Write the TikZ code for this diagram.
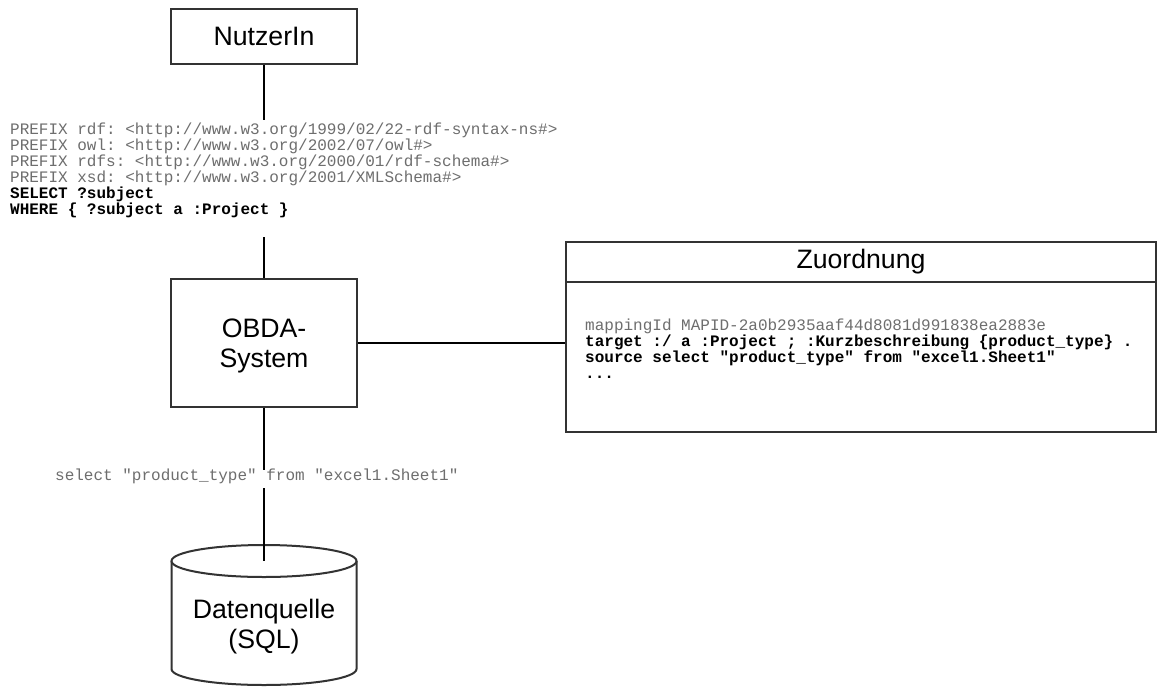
\documentclass[tikz,border=0pt]{standalone}
\usepackage{fontspec}
\setmainfont{Liberation Sans}
\newfontfamily\codefont[Ligatures=TeXOff]{Liberation Mono}
\usetikzlibrary{shapes.geometric}
\definecolor{bordergray}{HTML}{333333}
\definecolor{codegray}{HTML}{6E6E6E}
\tikzset{
  box/.style={draw=bordergray, line width=2pt, fill=white, inner sep=0pt,
    font=\fontsize{26.67}{29.5}\selectfont, align=center},
  label/.style={inner sep=0pt, font=\fontsize{26.67}{30}\selectfont, align=center},
  conn/.style={draw=black, line width=2pt},
  codeblock/.style={font=\codefont\fontsize{16}{16}\selectfont\frenchspacing,
    align=left, inner sep=0pt, text=codegray},
}
\begin{document}
\begin{tikzpicture}[x=1pt,y=-1pt]
\useasboundingbox[fill=white] (0,0) rectangle (1157,686);

% nodes
\node[box, minimum width=186pt, minimum height=55pt] (nutzer) at (264,36.5) {NutzerIn};
\node[box, minimum width=186pt, minimum height=128pt] (obda) at (264,343) {};
\node[label] (obdatext) at (264,345.5) {OBDA-\\System};
\node[draw=bordergray, line width=2pt, fill=white, minimum width=590pt, minimum height=190pt, inner sep=0pt] (zbox) at (861,337) {};
\node[label] (zhead) at (861,262) {Zuordnung};

% cylinder
\coordinate (dbtop) at (264,561);
\draw[draw=bordergray, line width=2pt, fill=white]
  (171.5,561) -- (171.5,669)
  .. controls (171.5,677.8) and (212.9,685) .. (264,685)
  .. controls (315.1,685) and (356.5,677.8) .. (356.5,669)
  -- (356.5,561);
\draw[draw=bordergray, line width=2pt, fill=white] (dbtop) ellipse [x radius=92.5pt, y radius=16pt];
\node[label] (db) at (264,627) {Datenquelle\\(SQL)};

% header separator
\draw[draw=bordergray, line width=2pt] (zbox.west |- 0,282) -- (zbox.east |- 0,282);

% connectors
\coordinate (qtop) at (264,120);
\coordinate (qbot) at (264,237);
\draw[conn] (nutzer.south) -- (qtop);
\draw[conn] (qbot) -- (obda.north);
\draw[conn] (obda.east) -- (obda.east -| zbox.west);
\draw[conn] (obda.south) -- (dbtop);

% code texts
\node[codeblock, anchor=north west] (query) at (10,123) {%
PREFIX rdf: <http://www.w3.org/1999/02/22-rdf-syntax-ns\#>\\
PREFIX owl: <http://www.w3.org/2002/07/owl\#>\\
PREFIX rdfs: <http://www.w3.org/2000/01/rdf-schema\#>\\
PREFIX xsd: <http://www.w3.org/2001/XMLSchema\#>\\
{\bfseries\color{black}SELECT ?subject}\\
{\bfseries\color{black}WHERE \{ ?subject a :Project \}}};

\node[codeblock, anchor=north west] (mapping) at (585,318.5) {%
mappingId MAPID-2a0b2935aaf44d8081d991838ea2883e\\
{\bfseries\color{black}target :/ a :Project ; :Kurzbeschreibung \{product\_type\} .}\\
{\bfseries\color{black}source select "product\_type" from "excel1.Sheet1"}\\
{\bfseries\color{black}...}};

\node[codeblock, anchor=base west, fill=white, text height=10pt, text depth=8pt] (sqllabel) at (55,480) {select "product\_type" from "excel1.Sheet1"};
\end{tikzpicture}
\end{document}
